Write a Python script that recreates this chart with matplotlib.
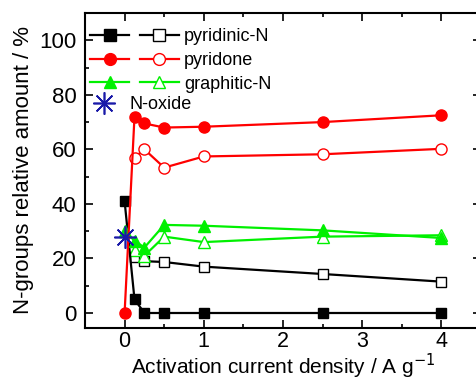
import numpy as np
import matplotlib
matplotlib.use('Agg')
import matplotlib.pyplot as plt
from matplotlib.lines import Line2D
from matplotlib.legend_handler import HandlerTuple

plt.rcParams['font.family'] = ['Liberation Sans', 'DejaVu Sans']

# current density / A g-1
x_full = [0, 0.125, 0.25, 0.5, 1, 2.5, 4]
x_act = [0.125, 0.25, 0.5, 1, 2.5, 4]

pyridinic_f = [41, 5, 0, 0, 0, 0, 0]
pyridone_f = [0, 72, 69.5, 68, 68.3, 70, 72.5]
graphitic_f = [30, 26.5, 24, 32.3, 32, 30.3, 27.5]

pyridinic_o = [20.5, 19, 18.7, 17, 14.3, 11.5]
pyridone_o = [57, 60, 53.3, 57.4, 58.2, 60.2]
graphitic_o = [23, 21, 28, 26, 28, 28.5]

noxide_x = [0]
noxide_y = [28]

red = '#ff0000'
green = '#00f000'
blue = '#1a1aa8'

fig = plt.figure(figsize=(4.77, 3.81), dpi=100)
ax = fig.add_axes([85/477, 53/381, 396/477, 315/381])

lw = 1.6
ms = 7.5
ax.plot(x_act, pyridinic_o, '-s', color='k', lw=lw, ms=ms, mfc='white', mec='k')
ax.plot(x_act, pyridone_o, '-o', color=red, lw=lw, ms=ms + 0.5, mfc='white', mec=red)
ax.plot(x_act, graphitic_o, '-^', color=green, lw=lw, ms=ms + 1, mfc='white', mec=green)
ax.plot(x_full, pyridinic_f, '-s', color='k', lw=lw, ms=ms)
ax.plot(x_full, graphitic_f, '-^', color=green, lw=lw, ms=ms + 1)
ax.plot(x_full, pyridone_f, '-o', color=red, lw=lw, ms=ms + 0.5)
ax.plot(noxide_x, noxide_y, ls='none', marker=(8, 2, 0), color=blue, ms=16, mew=1.2)

ax.set_xlim(-0.5, 4.5)
ax.set_ylim(-5.5, 110)
ax.set_xticks([0, 1, 2, 3, 4])
ax.set_xticks(np.arange(-0.5, 4.6, 0.5), minor=True)
ax.set_yticks([0, 20, 40, 60, 80, 100])
ax.set_yticks(np.arange(0, 110, 10), minor=True)
ax.tick_params(which='both', direction='in', top=True, right=True, width=1.2)
ax.tick_params(which='major', length=6, labelsize=16)
ax.tick_params(axis='x', which='major', pad=2, labelsize=15.5)
ax.tick_params(axis='y', which='major', pad=6)
ax.tick_params(which='minor', length=3)
for s in ax.spines.values():
    s.set_linewidth(1.5)

ax.set_xlabel('Activation current density / A g$^{-1}$', fontsize=15, labelpad=0)
ax.set_ylabel('N-groups relative amount / %', fontsize=16, labelpad=4)

h = []
for c, m in [('k', 's'), (red, 'o'), (green, '^')]:
    f = Line2D([], [], color=c, marker=m, lw=lw, ms=ms + 1)
    o = Line2D([], [], color=c, marker=m, lw=lw, ms=ms + 1, mfc='white', mec=c)
    h.append((f, o))
leg1 = ax.legend(h, ['pyridinic-N', 'pyridone', 'graphitic-N'],
                 handler_map={tuple: HandlerTuple(ndivide=None, pad=0.6)},
                 loc='upper left', bbox_to_anchor=(-0.005, 0.975), frameon=False,
                 fontsize=13, handlelength=4.9, handletextpad=0.3,
                 labelspacing=0.38, borderaxespad=0)
ax.add_artist(leg1)
hn = Line2D([], [], ls='none', marker=(8, 2, 0), color=blue, ms=16, mew=1.2)
ax.legend([hn], ['N-oxide'], loc='upper left', bbox_to_anchor=(-0.005, 0.76),
          frameon=False, fontsize=13, handlelength=1.5, handletextpad=0.7,
          borderaxespad=0)

fig.savefig('out.png', dpi=100)
